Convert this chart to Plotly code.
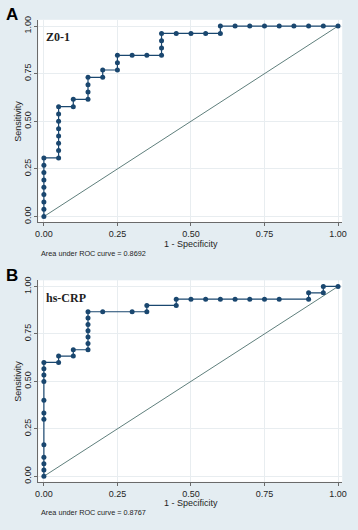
import plotly.graph_objects as go

# ---------------- data ----------------
z01_fpr = [0, 0, 0, 0, 0, 0, 0, 0, 0,
           0.05, 0.05, 0.05, 0.05, 0.05, 0.05, 0.05, 0.05,
           0.10, 0.10,
           0.15, 0.15, 0.15, 0.15,
           0.20, 0.20,
           0.25, 0.25, 0.25,
           0.30, 0.35, 0.40, 0.40, 0.40, 0.40,
           0.45, 0.50, 0.55, 0.60, 0.60,
           0.65, 0.70, 0.75, 0.80, 0.85, 0.90, 0.95, 1.00]
z01_tpr = [0, 0.0385, 0.0769, 0.1154, 0.1538, 0.1923, 0.2308, 0.2692, 0.3077,
           0.3077, 0.3462, 0.3846, 0.4231, 0.4615, 0.5000, 0.5385, 0.5769,
           0.5769, 0.6154,
           0.6154, 0.6538, 0.6923, 0.7308,
           0.7308, 0.7692,
           0.7692, 0.8077, 0.8462,
           0.8462, 0.8462, 0.8462, 0.8846, 0.9231, 0.9615,
           0.9615, 0.9615, 0.9615, 0.9615, 1.0,
           1.0, 1.0, 1.0, 1.0, 1.0, 1.0, 1.0, 1.0]

crp_fpr = [0, 0, 0, 0, 0, 0, 0, 0, 0, 0, 0, 0,
           0.05, 0.05,
           0.10, 0.10,
           0.15, 0.15, 0.15, 0.15, 0.15, 0.15, 0.15,
           0.20, 0.30, 0.35, 0.35,
           0.45, 0.45,
           0.50, 0.55, 0.60, 0.65, 0.70, 0.75, 0.80,
           0.90, 0.90,
           0.95, 0.95,
           1.00]
crp_tpr = [0, 0.0333, 0.0667, 0.1000, 0.1667, 0.3000, 0.3333, 0.4000, 0.5000, 0.5333, 0.5667, 0.6000,
           0.6000, 0.6333,
           0.6333, 0.6667,
           0.6667, 0.7000, 0.7333, 0.7667, 0.8000, 0.8333, 0.8667,
           0.8667, 0.8667, 0.8667, 0.9000,
           0.9000, 0.9333,
           0.9333, 0.9333, 0.9333, 0.9333, 0.9333, 0.9333, 0.9333,
           0.9333, 0.9667,
           0.9667, 1.0,
           1.0]

ref_x = [0, 1]
ref_y = [0, 1]

tick_vals = [0, 0.25, 0.5, 0.75, 1.0]
tick_text = ["0.00", "0.25", "0.50", "0.75", "1.00"]

panel_labels = ["A", "B"]
marker_names = ["Z0-1", "hs-CRP"]
auc_texts = ["Area under ROC curve = 0.8692", "Area under ROC curve = 0.8767"]
x_title = "1 - Specificity"
y_title = "Sensitivity"

# ---------------- styling / layout ----------------
W, H = 358, 530
BG = "#e4edf2"
NAVY = "#1a476f"
REF = "#5f7f7c"
GRID = "#e8edf0"
AXIS = "#6a6a6a"
TXT = "#1e1e1e"


def px(x):
    return x / W


def py(y):
    return 1 - y / H


fig = go.Figure()

curves = [(z01_fpr, z01_tpr), (crp_fpr, crp_tpr)]
for i, (fx, fy) in enumerate(curves):
    ax = "" if i == 0 else str(i + 1)
    fig.add_trace(go.Scatter(x=ref_x, y=ref_y, mode="lines",
                             line=dict(color=REF, width=1),
                             xaxis="x" + ax, yaxis="y" + ax, showlegend=False,
                             hoverinfo="skip"))
    fig.add_trace(go.Scatter(x=fx, y=fy, mode="lines+markers",
                             line=dict(color=NAVY, width=1.2),
                             marker=dict(color=NAVY, size=5),
                             xaxis="x" + ax, yaxis="y" + ax, showlegend=False))

# pixel geometry of the two plot regions
x_left, x_right = 36, 346
panels = [
    dict(top=16, bottom=221, y1px=22.3, y0px=215.0),
    dict(top=279.5, bottom=483.3, y1px=285.7, y0px=477.7),
]
x0px, x1px = 41.7, 341.7
xs = (x1px - x0px)
xr = [-(x0px - x_left) / xs, 1 + (x_right - x1px) / xs]

axis_common = dict(
    tickvals=tick_vals, ticktext=tick_text,
    showgrid=True, gridcolor=GRID, gridwidth=1,
    zeroline=False, showline=True, linecolor=AXIS, linewidth=1,
    ticks="outside", ticklen=3, tickcolor=AXIS, tickwidth=1,
    tickfont=dict(family="Liberation Sans, Arial", size=9, color=TXT),
    fixedrange=True,
)

layout = dict(width=W, height=H, autosize=False,
              margin=dict(l=0, r=0, t=0, b=0),
              paper_bgcolor=BG, plot_bgcolor="white",
              showlegend=False)

annotations = []
for i, p in enumerate(panels):
    ax = "" if i == 0 else str(i + 1)
    ys = p["y0px"] - p["y1px"]
    yr = [-(p["bottom"] - p["y0px"]) / ys, 1 + (p["y1px"] - p["top"]) / ys]
    layout["xaxis" + ax] = dict(axis_common, domain=[px(x_left), px(x_right)],
                                range=xr, anchor="y" + ax)
    layout["yaxis" + ax] = dict(axis_common, domain=[py(p["bottom"]), py(p["top"])],
                                range=yr, anchor="x" + ax, tickangle=-90,
                                ticklabelstandoff=0)
    mid_y = (p["top"] + p["bottom"]) / 2
    # axis titles
    annotations.append(dict(x=px(191.7), y=py(p["bottom"] + 21.5), xref="paper", yref="paper",
                            text=x_title, showarrow=False, xanchor="center", yanchor="middle",
                            font=dict(family="Liberation Sans, Arial", size=9, color=TXT)))
    annotations.append(dict(x=px(15), y=py(mid_y), xref="paper", yref="paper",
                            text=y_title, showarrow=False, textangle=-90,
                            xanchor="center", yanchor="middle",
                            font=dict(family="Liberation Sans, Arial", size=9, color=TXT)))
    annotations.append(dict(x=px(37), y=py(p["bottom"] + 31.5), xref="paper", yref="paper",
                            text=auc_texts[i], showarrow=False, xanchor="left", yanchor="middle",
                            font=dict(family="Liberation Sans, Arial", size=7.3, color=TXT)))
    annotations.append(dict(x=px(41.5), y=py(p["top"] + 17.5), xref="paper", yref="paper",
                            text="<b>" + marker_names[i] + "</b>", showarrow=False,
                            xanchor="left", yanchor="middle",
                            font=dict(family="Liberation Serif, Times New Roman", size=12, color=TXT)))
    annotations.append(dict(x=px(1.5), y=py(p["top"] - 5), xref="paper", yref="paper",
                            text="<b>" + panel_labels[i] + "</b>", showarrow=False,
                            xanchor="left", yanchor="middle",
                            font=dict(family="Liberation Sans, Arial", size=17, color="#000000")))

layout["annotations"] = annotations
fig.update_layout(**layout)
fig.write_html("out.html", config={"displayModeBar": False},
               post_script="document.body.style.margin='0px';document.body.style.padding='0px';")
